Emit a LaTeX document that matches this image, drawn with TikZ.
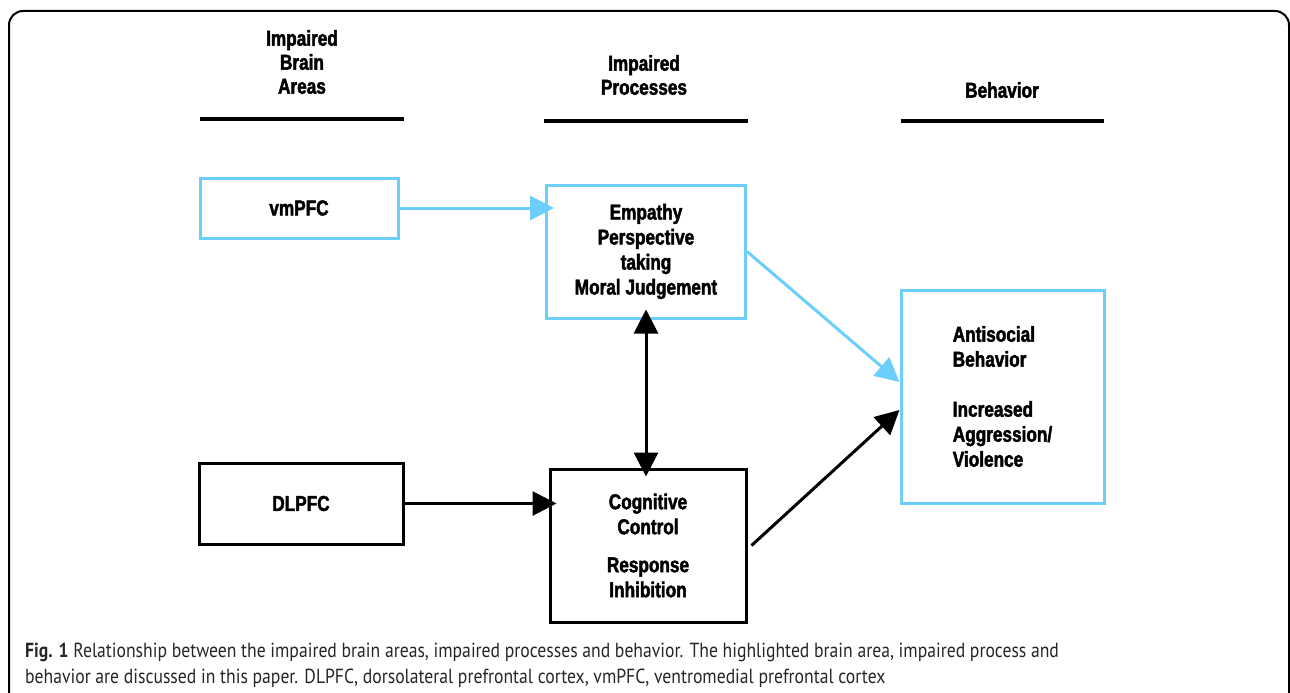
\documentclass[tikz,border=0pt]{standalone}
\usepackage{fontspec}
\newfontfamily\diafont[FakeStretch=0.8, BoldFeatures={FakeBold=2}]{Liberation Sans}
\newfontfamily\capfont[FakeStretch=0.865]{PT Sans}
\usetikzlibrary{positioning, arrows.meta}
\definecolor{hlblue}{RGB}{108,206,250}
\tikzset{
  box/.style={draw, line width=3pt, inner sep=0pt, align=center,
    font=\diafont\bfseries\fontsize{21.5}{25}\selectfont},
  hl/.style={box, draw=hlblue},
  head/.style={align=center, font=\diafont\bfseries\fontsize{21.5}{24}\selectfont},
  rule/.style={line width=4pt},
  link/.style={line width=3pt, -{Triangle[length=24pt,width=24pt]}},
  hllink/.style={link, draw=hlblue, fill=hlblue},
  captext/.style={anchor=base west, inner sep=0pt, text=black!85,
    font=\capfont\fontsize{20.4}{26}\selectfont}
}

\begin{document}
\begin{tikzpicture}[x=1pt,y=-1pt]
  \useasboundingbox (0,0) rectangle (1290,693);
  % frame
  \draw[line width=2pt, rounded corners=14pt] (9,720) -- (9,11) -- (1289,11) -- (1289,720);

  % column heads
  \node[head] (hba) at (302,62) {Impaired\\Brain\\Areas};
  \node[head] (hip) at (644,75) {Impaired\\Processes};
  \node[head] (hbe) at (1002,90) {Behavior};
  \draw[rule] (200,119) -- (404,119);
  \draw[rule] (544,121) -- (748,121);
  \draw[rule] (901,121) -- (1104,121);

  % boxes
  \node[hl, minimum width=198pt, minimum height=60pt] (vm) at (299,208) {vmPFC};
  \node[hl, minimum width=199pt, minimum height=133pt] (emp) at (646,251.5)
    {Empathy\\Perspective\\taking\\Moral Judgement};
  \node[box, minimum width=204pt, minimum height=81pt] (dl) at (301,503.5) {DLPFC};
  \node[box, minimum width=196pt, minimum height=153pt] (cog) at (648,545.5)
    {Cognitive\\Control\\[13pt]Response\\Inhibition};
  \node[hl, minimum width=203pt, minimum height=213pt, align=left] (beh) at (1002.5,396.5)
    {Antisocial\\Behavior\\[25pt]Increased\\Aggression/\\Violence};

  % links
  \draw[hllink, shorten >=-9pt] (vm.east) -- (vm.east -| emp.west);
  \draw[hllink] (emp.east) -- ([yshift=14.5pt]beh.west);
  \draw[link, shorten >=-8pt] (dl.east) -- (dl.east -| cog.west);
  \draw[link, {Triangle[length=24pt,width=24pt]}-{Triangle[length=24pt,width=24pt]},
    shorten <=-10pt, shorten >=-9pt]
    (emp.south) -- (emp.south |- cog.north);
  \draw[link] ([xshift=4pt]cog.east) -- ([yshift=-13.5pt]beh.west);

  % caption
  \node[captext] (cap) at (25,657)
    {\textbf{Fig. 1} Relationship between the impaired brain areas, impaired processes and behavior. The highlighted brain area, impaired process and};
  \node[captext] (cap2) at (25,683)
    {behavior are discussed in this paper. DLPFC, dorsolateral prefrontal cortex, vmPFC, ventromedial prefrontal cortex};
\end{tikzpicture}
\end{document}
